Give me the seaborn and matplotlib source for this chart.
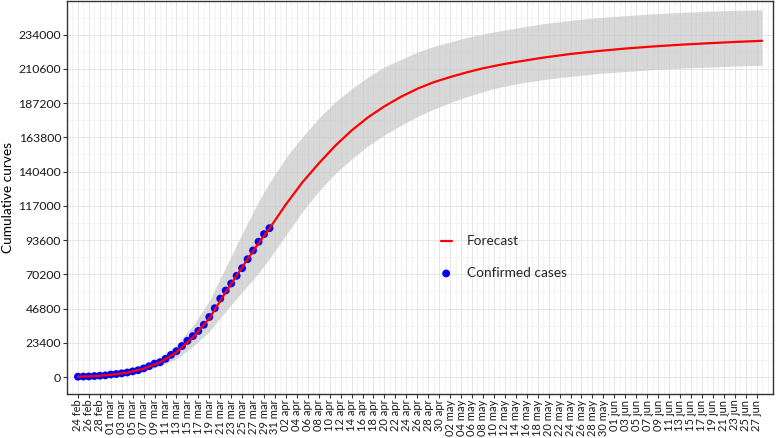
import pandas as pd
import matplotlib
matplotlib.use('Agg')
import matplotlib.pyplot as plt
import matplotlib.dates as mdates
from matplotlib.ticker import MultipleLocator
import seaborn as sns

# Confirmed cumulative cases, one per day from 24 feb 2020 to 30 mar 2020
confirmed = [229, 322, 400, 650, 888, 1128, 1694, 2036, 2502, 3089,
             3858, 4636, 5883, 7375, 9172, 10149, 12462, 15113, 17660, 21157,
             24747, 27980, 31506, 35713, 41035, 47021, 53578, 59138, 63927, 69176,
             74386, 80539, 86498, 92472, 97689, 101739]

# Forecast curve and band (days after 24 feb)
fc_days = [0, 3, 6, 9, 12, 15, 18, 21, 24, 27, 30, 33, 35, 38, 41, 44, 47, 50,
           53, 56, 59, 62, 65, 68, 71, 74, 77, 80, 85, 90, 95, 100, 105, 110,
           115, 120, 125]
fc_value = [200, 600, 1500, 3000, 5700, 10000, 17000, 27000, 40000, 58000,
            75000, 91500, 101500, 118000, 133000, 146000, 158000, 168500,
            177500, 185000, 191500, 197000, 201500, 205000, 208200, 211000,
            213300, 215300, 218300, 220800, 222800, 224500, 225900, 227100,
            228100, 229000, 229800]
fc_lower = [150, 450, 1100, 2200, 4200, 7300, 12500, 21000, 31000, 45000,
            58000, 71000, 81000, 97000, 113000, 127000, 139000, 149000,
            158000, 165500, 172000, 178000, 183000, 187500, 191500, 195000,
            198000, 200300, 203300, 205500, 207400, 208800, 210000, 211000,
            211800, 212500, 213100]
fc_upper = [300, 800, 2000, 4000, 7500, 13000, 22000, 35000, 52000, 75000,
            98000, 120000, 133000, 150000, 164000, 177000, 188000, 197000,
            205000, 212000, 217000, 222000, 226000, 229000, 232000, 234500,
            236500, 238500, 241500, 243800, 245600, 247000, 248200, 249200,
            250000, 250600, 251000]

y_ticks = [0, 23400, 46800, 70200, 93600, 117000, 140400, 163800, 187200, 210600, 234000]

start = pd.Timestamp('2020-02-24')
conf_dates = pd.date_range(start, periods=len(confirmed), freq='D')
fc_dates = start + pd.to_timedelta(fc_days, unit='D')

conf_df = pd.DataFrame({'date': conf_dates, 'cases': confirmed})
fc_df = pd.DataFrame({'date': fc_dates, 'value': fc_value,
                      'lower': fc_lower, 'upper': fc_upper})

sns.set_theme(style='white')
plt.rcParams['font.family'] = ['Lato', 'DejaVu Sans']

fig = plt.figure(figsize=(7.78, 4.38), dpi=100)
ax = fig.add_axes([0.0861, 0.1005, 0.9075, 0.8972])

# Confidence band
ax.fill_between(mdates.date2num(fc_df['date']), fc_df['lower'], fc_df['upper'],
                color='#c8c8c8', alpha=0.7, linewidth=0, zorder=1)

sns.scatterplot(data=conf_df, x='date', y='cases', color='#0000ff', s=32,
                edgecolor='none', label='Confirmed cases', ax=ax, zorder=2)
sns.lineplot(data=fc_df, x='date', y='value', color='#ff0000', linewidth=1.6,
             label='Forecast', ax=ax, zorder=3)

# Axes
ax.set_ylim(-11600, 257000)
ax.set_yticks(y_ticks)
ax.set_yticklabels([str(v) for v in y_ticks])
ax.yaxis.set_minor_locator(MultipleLocator(11700))

x0 = mdates.date2num(start)
ax.set_xlim(x0 - 1.95, x0 + 126.6)
tick_dates = pd.date_range('2020-02-24', '2020-06-27', freq='2D')
ax.set_xticks(mdates.date2num(tick_dates))
ax.set_xticklabels([d.strftime('%d %b').lower() for d in tick_dates], rotation=90)
ax.set_xticks(mdates.date2num(pd.date_range('2020-02-22', '2020-06-30', freq='D')), minor=True)

ax.grid(True, which='major', color='#e6e6e6', linewidth=0.7)
ax.grid(True, which='minor', color='#efefef', linewidth=0.5)
ax.set_axisbelow(True)

ax.tick_params(axis='both', which='major', length=3, width=0.8, color='#333333',
               labelcolor='#1a1a1a', pad=1.2, direction='out',
               bottom=True, left=True)
ax.tick_params(axis='x', which='major', labelsize=8.0, pad=1.0)
ax.tick_params(axis='y', which='major', labelsize=8.8)
ax.tick_params(axis='both', which='minor', length=0)
for s in ax.spines.values():
    s.set_color('#333333')
    s.set_linewidth(1.0)

ax.set_xlabel('')
ax.set_ylabel('Cumulative curves', fontsize=9.8, color='black', labelpad=3)

handles, labels = ax.get_legend_handles_labels()
order = [labels.index('Forecast'), labels.index('Confirmed cases')]
ax.legend([handles[i] for i in order], [labels[i] for i in order],
          loc='upper left', bbox_to_anchor=(0.512, 0.435), frameon=False,
          fontsize=9.8, handlelength=0.8, handletextpad=1.1, labelspacing=1.45)

fig.savefig('out.png', dpi=100)
